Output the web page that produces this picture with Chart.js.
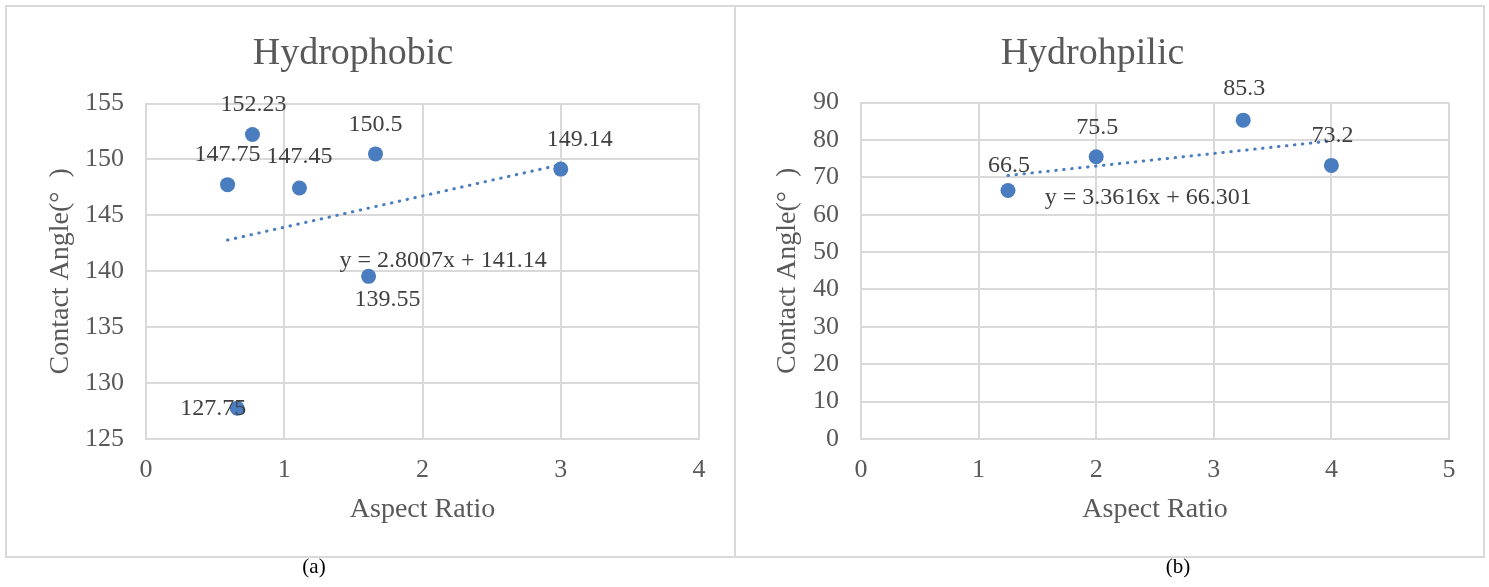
<!DOCTYPE html>
<html>
<head>
<meta charset="utf-8">
<script src="https://cdn.jsdelivr.net/npm/chart.js@4.4.1/dist/chart.umd.min.js"></script>
<style>
  html, body { margin: 0; padding: 0; background: #fff; width: 1489px; height: 587px; overflow: hidden; }
  .panel { position: absolute; box-sizing: border-box; border: 2px solid #d9d9d9; background: #fff; }
  .panel canvas { position: absolute; left: 0; top: 0; }
  .cap { position: absolute; font: 21px 'Liberation Serif', 'Times New Roman', serif; color: #000;
         transform: translate(-50%, -50%); white-space: nowrap; }
</style>
</head>
<body>
<div class="panel" style="left:5px;top:5px;width:731px;height:553px"><canvas id="chartPhobic" width="727" height="549"></canvas></div>
<div class="panel" style="left:734px;top:5px;width:751px;height:553px"><canvas id="chartPhilic" width="747" height="549"></canvas></div>
<div class="cap" style="left:314px;top:566px">(a)</div>
<div class="cap" style="left:1178px;top:566px">(b)</div>

<script>
// ---- Hydrophobic samples ----
const phobicRatio = [0.59, 0.77, 1.11, 1.66, 3.0, 1.61, 0.66];
const phobicAngle = [147.75, 152.23, 147.45, 150.5, 149.14, 139.55, 127.75];
const phobicFit = [2.8007, 141.14];            // slope, intercept of linear trend
const phobicXTicks = [0, 4, 1];                // min, max, step
const phobicYTicks = [125, 155, 5];

// ---- Hydrophilic samples ----
const philicRatio = [1.25, 2, 3.25, 4];
const philicAngle = [66.5, 75.5, 85.3, 73.2];
const philicFit = [3.3616, 66.301];
const philicXTicks = [0, 5, 1];
const philicYTicks = [0, 90, 10];

// label placement (pixel offsets from each point) and equation anchor (data units)
const phobicLabelOffsets = [[0, -30], [1, -30], [0, -31], [0, -29], [19, -29], [19, 23], [-24, 0]];
const philicLabelOffsets = [[1, -25], [1, -29], [1, -31], [1, -30]];
const phobicEqAnchor = [2.149, 140.92];
const philicEqAnchor = [2.443, 64.65];

const FONT = "'Liberation Serif', 'Times New Roman', serif";
const TEXT = '#595959';
const LABEL = '#404040';
const GRID = '#d9d9d9';
const BLUE = '#4a7cc0';

Chart.defaults.font.family = FONT;
Chart.defaults.color = TEXT;

// draws the value of every point plus the trend equation
const valueLabels = {
  id: 'valueLabels',
  afterDatasetsDraw(chart, args, opts) {
    const ctx = chart.ctx;
    const meta = chart.getDatasetMeta(0);
    const ds = chart.data.datasets[0];
    ctx.save();
    ctx.font = '24px ' + FONT;
    ctx.fillStyle = LABEL;
    ctx.textAlign = 'center';
    ctx.textBaseline = 'middle';
    meta.data.forEach((el, i) => {
      const [dx, dy] = opts.offsets[i];
      ctx.fillText(String(ds.data[i].y), el.x + dx, el.y + dy);
    });
    const xs = chart.scales.x, ys = chart.scales.y;
    ctx.fillText(opts.equation, xs.getPixelForValue(opts.eqAt[0]), ys.getPixelForValue(opts.eqAt[1]));
    ctx.restore();
  }
};

function buildChart(canvasId, cfg) {
  const points = cfg.xs.map((x, i) => ({ x: x, y: cfg.ys[i] }));
  const xMin = Math.min(...cfg.xs), xMax = Math.max(...cfg.xs);
  const [m, b] = cfg.fit;
  const trend = [{ x: xMin, y: m * xMin + b }, { x: xMax, y: m * xMax + b }];

  return new Chart(document.getElementById(canvasId), {
    type: 'scatter',
    data: {
      datasets: [
        { data: points, backgroundColor: BLUE, borderWidth: 0, pointRadius: 7.5, pointHoverRadius: 7.5 },
        { data: trend, showLine: true, borderColor: BLUE, borderWidth: 3, borderDash: [0.5, 7.5],
          borderCapStyle: 'round', pointRadius: 0, fill: false }
      ]
    },
    options: {
      responsive: false,
      animation: false,
      events: [],
      layout: { padding: { left: 0, right: cfg.padRight, top: 0, bottom: 0 } },
      plugins: {
        legend: { display: false },
        tooltip: { enabled: false },
        title: {
          display: true, text: cfg.title, color: TEXT,
          font: { size: 38, weight: 'normal', family: FONT },
          padding: { top: 24, bottom: cfg.titleGap }
        },
        valueLabels: {
          offsets: cfg.offsets,
          equation: 'y = ' + m + 'x + ' + b,
          eqAt: cfg.eqAt
        }
      },
      scales: {
        x: {
          type: 'linear', min: cfg.xTicks[0], max: cfg.xTicks[1],
          ticks: { stepSize: cfg.xTicks[2], padding: 16, color: TEXT, font: { size: 26 } },
          grid: { color: GRID, lineWidth: 2, drawTicks: false },
          border: { color: GRID, width: 2 },
          title: { display: true, text: 'Aspect Ratio', color: TEXT, font: { size: 28 },
                   padding: { top: 0, bottom: 30 } },
          afterFit(s) { s.height = 117; }
        },
        y: {
          type: 'linear', min: cfg.yTicks[0], max: cfg.yTicks[1],
          ticks: { stepSize: cfg.yTicks[2], padding: 22, color: TEXT, font: { size: 26 } },
          grid: { color: GRID, lineWidth: 2, drawTicks: false },
          border: { color: GRID, width: 2 },
          title: { display: true, text: 'Contact Angle(°  )', color: TEXT, font: { size: 28 },
                   padding: { top: cfg.yTitlePad, bottom: 0 } },
          afterFit(s) { s.width = cfg.yWidth; }
        }
      }
    },
    plugins: [valueLabels]
  });
}

buildChart('chartPhobic', {
  title: 'Hydrophobic', xs: phobicRatio, ys: phobicAngle, fit: phobicFit,
  xTicks: phobicXTicks, yTicks: phobicYTicks, offsets: phobicLabelOffsets, eqAt: phobicEqAnchor,
  padRight: 35, yWidth: 139, yTitlePad: 37, titleGap: 27
});

buildChart('chartPhilic', {
  title: 'Hydrohpilic', xs: philicRatio, ys: philicAngle, fit: philicFit,
  xTicks: philicXTicks, yTicks: philicYTicks, offsets: philicLabelOffsets, eqAt: philicEqAnchor,
  padRight: 34, yWidth: 125, yTitlePad: 35, titleGap: 26
});
</script>
</body>
</html>
